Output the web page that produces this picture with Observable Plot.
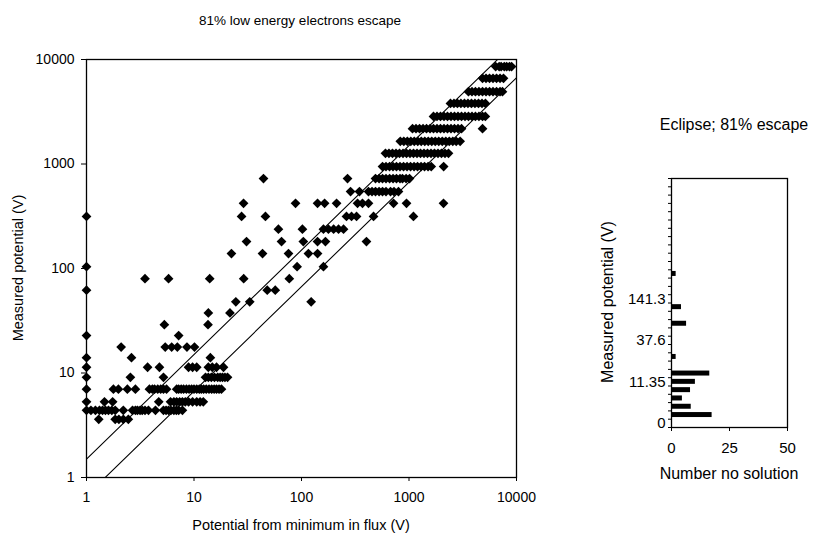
<!DOCTYPE html>
<html>
<head>
<meta charset="utf-8">
<script src="https://cdn.jsdelivr.net/npm/d3@7"></script>
<script src="https://cdn.jsdelivr.net/npm/@observablehq/plot@0.6"></script>
<style>
  html, body { margin: 0; padding: 0; background: #fff; }
  #wrap { position: relative; width: 815px; height: 541px; overflow: hidden;
          font-family: "Liberation Sans", Arial, sans-serif; color: #000; }
  .abs { position: absolute; white-space: nowrap; transform: translate(-50%, -50%); }
  .rot { transform: translate(-50%, -50%) rotate(-90deg); }
  svg { display: block; }
</style>
</head>
<body>
<div id="wrap">
  <div id="main" style="position:absolute;left:0;top:0"></div>
  <div id="hist" style="position:absolute;left:590px;top:0"></div>
  <div class="abs" style="left:300px;top:20px;font-size:13.5px">81% low energy electrons escape</div>
  <div class="abs" style="left:301px;top:525px;font-size:14.5px">Potential from minimum in flux (V)</div>
  <div class="abs rot" style="left:18px;top:268px;font-size:14.5px">Measured potential (V)</div>
  <div class="abs" style="left:734px;top:125px;font-size:16px">Eclipse; 81% escape</div>
  <div class="abs" style="left:729px;top:474px;font-size:16px">Number no solution</div>
  <div class="abs rot" style="left:608px;top:302px;font-size:16px">Measured potential (V)</div>
</div>
<script>
// ---------- main scatter data ----------
const logTicks = [1, 10, 100, 1000, 10000];
// discrete measured-potential levels (V)
const measuredLevels = [3.6, 4.4, 5.3, 7.0, 9.1, 11.35, 14, 17.7, 22.8, 29, 37.6, 48, 62, 80, 104, 139,
  181, 238, 315, 420, 545, 725, 945, 1265, 1650, 2180, 2850, 3800, 4920, 6600, 8550];
// potential from minimum in flux (V) for points at each level
const potentialAtLevel = [
  [1.3, 1.85, 2.0, 2.2, 2.45],
  [1, 1.1, 1.21, 1.32, 1.41, 1.5, 1.6, 1.72, 1.85, 2.2, 2.68, 2.85, 2.98, 3.15, 3.3, 3.5, 3.77, 4.38, 5.2, 5.5, 5.8, 6.1, 6.5, 6.85, 7.2, 7.8],
  [1, 1.47, 1.75, 4.7, 6.05, 6.5, 6.9, 7.35, 7.8, 8.3, 8.9, 9.7, 10.6, 11.4, 12.2],
  [1, 1.78, 1.98, 2.4, 2.85, 3.85, 4.1, 4.3, 4.6, 4.9, 5.2, 5.55, 6.9, 7.2, 7.6, 8.0, 8.5, 9.0, 9.5, 10.0, 10.6, 11.2, 11.7, 12.3, 13, 13.8, 14.6, 15.4, 16.2, 17.1, 18],
  [1, 2.56, 5.2, 12.8, 13.6, 14.5, 15.5, 16.6, 17.5, 18.4, 19.4, 20.5],
  [1, 3.7, 4.77, 8.9, 9.7, 10.6, 13.6, 14.8, 16.2, 18.8],
  [1, 2.62, 14.2],
  [2.1, 5.4, 6.2, 7.0, 8.6, 10.1],
  [1, 7.2],
  [5.3, 13.5],
  [13.6, 21.6],
  [24.5, 33, 123],
  [1, 48, 57],
  [3.5, 5.8, 14, 29, 77],
  [1, 91, 160],
  [22.3, 43.4, 75.7, 116, 141],
  [30.8, 65.2, 104, 141, 167, 402],
  [61, 102, 160, 178, 199, 221, 246],
  [1, 27.7, 46.2, 262, 292, 325, 468, 1100],
  [28.9, 88, 141, 164, 212, 332, 369, 420, 718, 948, 2094],
  [286, 346, 420, 453, 488, 527, 567, 611, 673, 725, 798],
  [44.3, 268, 488, 527, 567, 611, 660, 711, 765, 825, 870, 940, 1011],
  [567, 611, 659, 710, 765, 825, 890, 959, 1034, 1115, 1200, 1295, 1395, 1505, 1610, 2100],
  [604, 651, 702, 757, 816, 880, 948, 1022, 1101, 1187, 1279, 1379, 1486, 1602, 1726, 1861, 2005, 2162, 2330],
  [830, 895, 965, 1040, 1120, 1207, 1300, 1402, 1510, 1628, 1755, 1892, 2040, 2199, 2370, 2555, 2750, 2990],
  [1078, 1162, 1253, 1351, 1455, 1569, 1690, 1822, 1963, 2116, 2280, 2458, 2650, 2857, 3080, 4830],
  [1690, 1822, 1963, 2116, 2280, 2458, 2650, 2857, 3080, 3320, 3575, 3854, 4150, 4474, 4830, 5130],
  [2430, 2620, 2820, 3040, 3280, 3536, 3810, 4107, 4430, 4776, 5140],
  [3575, 3854, 4150, 4474, 4830, 5207, 5610, 6048, 6520, 7029, 7400],
  [4830, 5207, 5610, 6048, 6520, 7029, 7570],
  [6400, 6900, 7200, 7700, 8100, 8600, 9000]
];
// reference lines: measured = ratio * potential
const lineRatios = [1.5, 0.67];
const lineXExtent = [1, 10000];

// ---------- histogram data ----------
const binCount = 30;
const binTickIndex = [0, 5, 10, 15];
const binTickLabels = ["0", "11.35", "37.6", "141.3"];
const noSolutionBin = [1, 2, 3, 4, 5, 6, 8, 12, 14, 18];
const noSolutionCount = [17.5, 8.5, 4.7, 8.2, 10.3, 16.5, 2, 6.5, 4.3, 2];
const countTicks = [0, 25, 50];

// ---------- build tables ----------
const points = potentialAtLevel.flatMap((xs, i) => xs.map(x => ({x, y: measuredLevels[i]})));
const refLines = lineRatios.flatMap(r => lineXExtent.map(x => ({ratio: r, x, y: r * x})));
const bars = noSolutionBin.map((b, i) => ({bin: b, count: noSolutionCount[i]}));

const font = "'Liberation Sans', Arial, sans-serif";

const main = Plot.plot({
  width: 560, height: 541,
  marginLeft: 86, marginRight: 44, marginTop: 59, marginBottom: 64,
  style: {fontFamily: font, fontSize: "14px", background: "white", color: "black"},
  x: {type: "log", domain: [1, 10000]},
  y: {type: "log", domain: [1, 10000]},
  marks: [
    Plot.line(refLines, {x: "x", y: "y", z: "ratio", stroke: "black", strokeWidth: 1.1, clip: true}),
    Plot.dot(points, {x: "x", y: "y", symbol: "diamond2", r: 4.4, fill: "black", stroke: "none"}),
    Plot.frame({stroke: "black", strokeWidth: 1.3}),
    Plot.axisX({ticks: logTicks, tickFormat: d => String(d), tickSize: 4, tickPadding: 11, label: null}),
    Plot.axisY({ticks: logTicks, tickFormat: d => String(d), tickSize: 5, tickPadding: 7, label: null})
  ]
});
document.getElementById("main").appendChild(main);

const hist = Plot.plot({
  width: 225, height: 541,
  marginLeft: 81, marginRight: 28, marginTop: 178, marginBottom: 114,
  style: {fontFamily: font, fontSize: "15px", background: "white", color: "black"},
  x: {domain: [0, 50]},
  y: {domain: [0, binCount]},
  marks: [
    Plot.rectX(bars, {x1: 0, x2: "count", y1: d => d.bin + 0.2, y2: d => d.bin + 0.8, fill: "black"}),
    Plot.frame({stroke: "black", strokeWidth: 1.3}),
    Plot.axisX({ticks: countTicks, tickSize: 4, tickPadding: 11, label: null}),
    Plot.axisY({ticks: d3.range(binCount + 1), tickSize: 3, tickFormat: () => "", label: null}),
    Plot.axisY({ticks: binTickIndex.map(b => b + 0.5), tickSize: 0, tickPadding: 6,
      tickFormat: d => binTickLabels[binTickIndex.indexOf(d - 0.5)], label: null})
  ]
});
document.getElementById("hist").appendChild(hist);
</script>
</body>
</html>
